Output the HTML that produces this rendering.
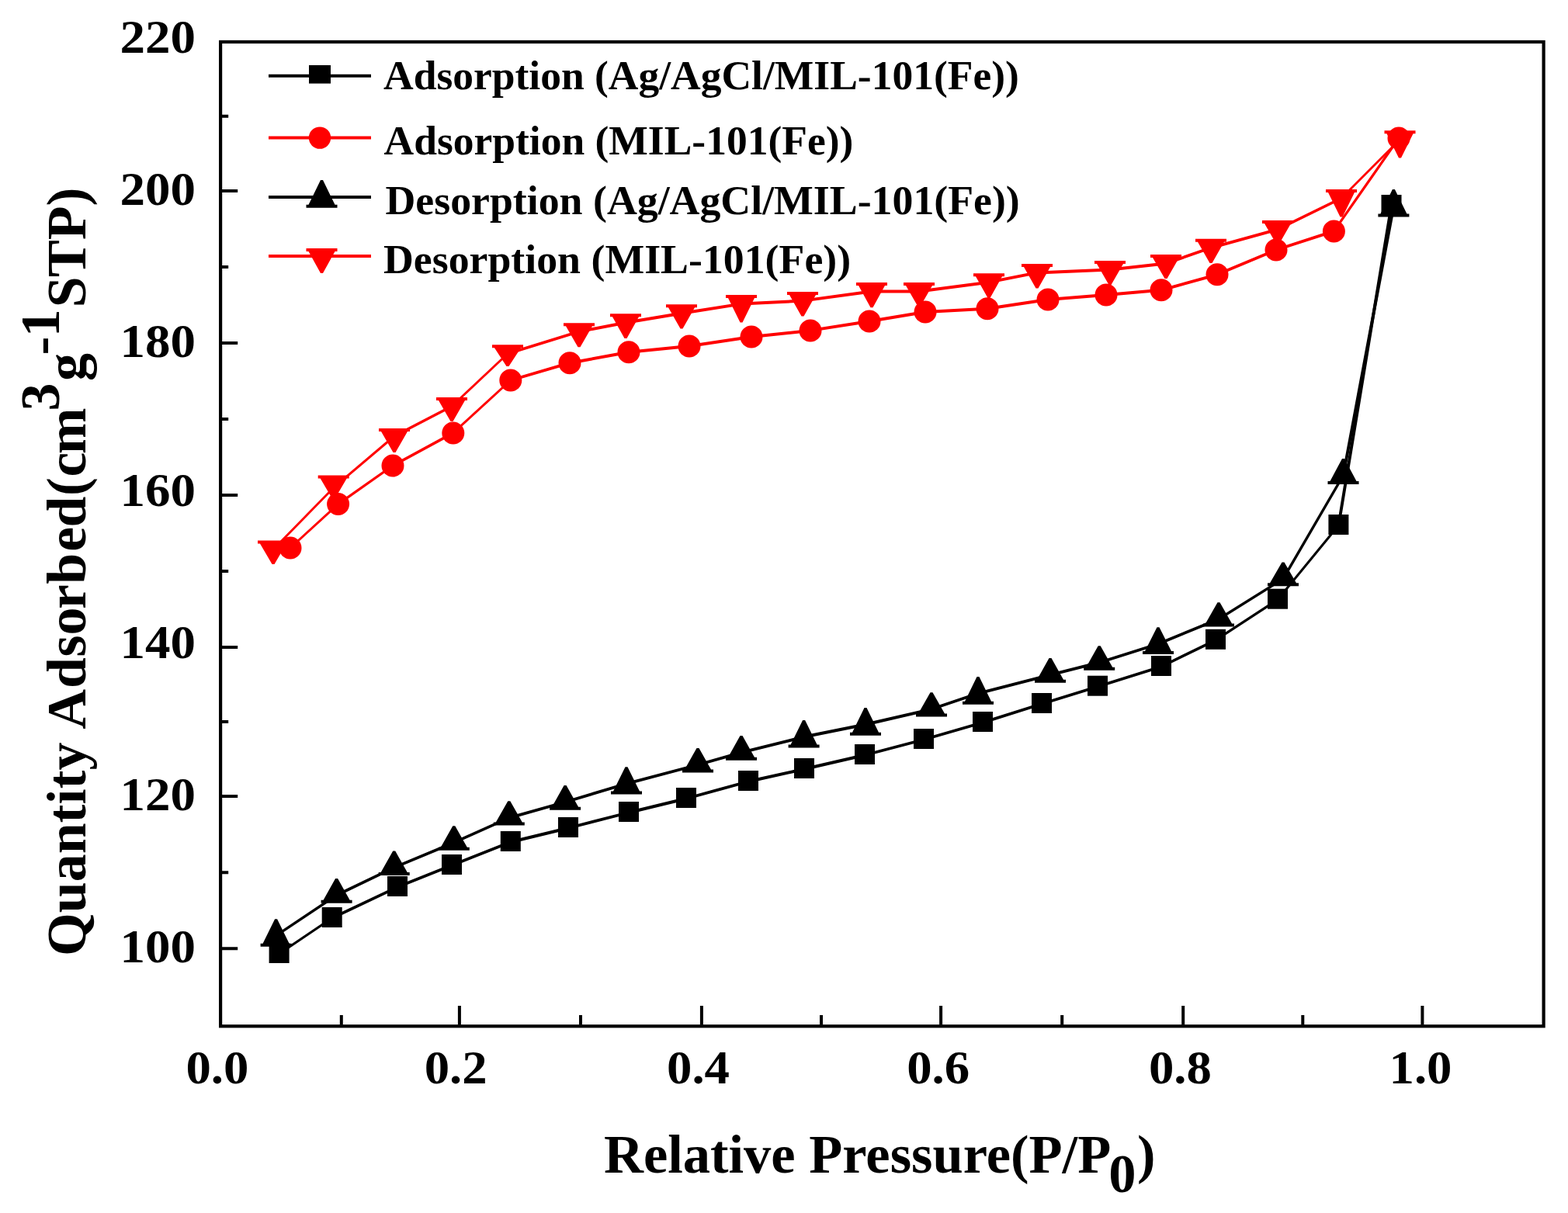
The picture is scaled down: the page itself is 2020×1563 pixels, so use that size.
<!DOCTYPE html>
<html><head><meta charset="utf-8"><title>Isotherm</title>
<style>
html,body{margin:0;padding:0;background:#fff;}
body{width:2020px;height:1563px;overflow:hidden;}
svg{display:block;}
text{font-family:'Liberation Serif', 'Times New Roman', serif;font-weight:bold;fill:#000;}
.tk{font-size:61px;}
.ti{font-size:70.5px;}
.yt{font-size:71.8px;}
.lg{font-size:53.5px;}
</style></head>
<body>
<svg width="2020" height="1563" viewBox="0 0 2020 1563">
<rect width="2020" height="1563" fill="#fff"/>
<path d="M285.7 245.9H306.2M285.7 442.0H306.2M285.7 638.0H306.2M285.7 834.1H306.2M285.7 1026.1H306.2M285.7 1222.2H306.2M285.7 149.8H294.2M285.7 344.0H294.2M285.7 540.0H294.2M285.7 736.0H294.2M285.7 930.0H294.2M285.7 1124.2H294.2M591.9 1320.7V1296M903.9 1320.7V1296M1212.1 1320.7V1296M1524.2 1320.7V1296M1832.4 1320.7V1296M439.8 1320.7V1308M748.0 1320.7V1308M1058.0 1320.7V1308M1368.2 1320.7V1308M1678.3 1320.7V1308" stroke="#000" stroke-width="4" fill="none"/>
<rect x="284.1" y="54.0" width="1704.5" height="1268.3" fill="none" stroke="#000" stroke-width="4.2"/>
<text x="252.0" y="67.7" text-anchor="end" class="tk" textLength="97.5" lengthAdjust="spacingAndGlyphs">220</text>
<text x="252.0" y="263.9" text-anchor="end" class="tk" textLength="97.5" lengthAdjust="spacingAndGlyphs">200</text>
<text x="252.0" y="459.9" text-anchor="end" class="tk" textLength="97.5" lengthAdjust="spacingAndGlyphs">180</text>
<text x="252.0" y="651.9" text-anchor="end" class="tk" textLength="97.5" lengthAdjust="spacingAndGlyphs">160</text>
<text x="252.0" y="848.0" text-anchor="end" class="tk" textLength="97.5" lengthAdjust="spacingAndGlyphs">140</text>
<text x="252.0" y="1044.0" text-anchor="end" class="tk" textLength="97.5" lengthAdjust="spacingAndGlyphs">120</text>
<text x="252.0" y="1240.2" text-anchor="end" class="tk" textLength="97.5" lengthAdjust="spacingAndGlyphs">100</text>
<text x="279.9" y="1396.2" text-anchor="middle" class="tk" textLength="81" lengthAdjust="spacingAndGlyphs">0.0</text>
<text x="587.2" y="1396.2" text-anchor="middle" class="tk" textLength="81" lengthAdjust="spacingAndGlyphs">0.2</text>
<text x="899.5" y="1396.2" text-anchor="middle" class="tk" textLength="81" lengthAdjust="spacingAndGlyphs">0.4</text>
<text x="1208.7" y="1396.2" text-anchor="middle" class="tk" textLength="81" lengthAdjust="spacingAndGlyphs">0.6</text>
<text x="1520.4" y="1396.2" text-anchor="middle" class="tk" textLength="81" lengthAdjust="spacingAndGlyphs">0.8</text>
<text x="1830.0" y="1396.2" text-anchor="middle" class="tk" textLength="81" lengthAdjust="spacingAndGlyphs">1.0</text>
<text x="778" y="1511.4" class="ti">Relative Pressure(P/P<tspan dx="-3" dy="24.6">0</tspan><tspan dx="1.5" dy="-24.6">)</tspan></text>
<text transform="translate(109.6 1232) rotate(-90)" class="ti yt"><tspan x="0.0 55.8 95.8 131.7 171.6 195.5 215.5 239.4 275.3 292.3 345.1 385.5 413.5 446.9 479.2 521.2 552.5 593.0 617.4 646.7" y="0">Quantity Adsorbed(cm</tspan><tspan x="702.6" y="-34">3</tspan><tspan x="741" y="0">g</tspan><tspan x="774.6 797.8" y="-34">-1</tspan><tspan x="835.7 874.9 922.8 966.6" y="0">STP)</tspan></text>
<g fill="none" stroke="#000" stroke-linecap="round"><path d="M359.6 1229.0L427.7 1183.0" stroke-width="3.31"/><path d="M427.7 1183.0L512.0 1143.0" stroke-width="3.61"/><path d="M512.0 1143.0L582.0 1115.0" stroke-width="3.71"/><path d="M582.0 1115.0L657.8 1085.0" stroke-width="3.72"/><path d="M657.8 1085.0L732.0 1067.0" stroke-width="3.89"/><path d="M732.0 1067.0L810.0 1047.0" stroke-width="3.87"/><path d="M810.0 1047.0L884.0 1029.0" stroke-width="3.89"/><path d="M884.0 1029.0L964.0 1007.0" stroke-width="3.86"/><path d="M964.0 1007.0L1036.0 991.0" stroke-width="3.90"/><path d="M1036.0 991.0L1114.0 973.0" stroke-width="3.90"/><path d="M1114.0 973.0L1190.0 953.0" stroke-width="3.87"/><path d="M1190.0 953.0L1266.0 931.0" stroke-width="3.84"/><path d="M1266.0 931.0L1342.0 907.0" stroke-width="3.81"/><path d="M1342.0 907.0L1414.0 884.7" stroke-width="3.82"/><path d="M1414.0 884.7L1496.0 859.0" stroke-width="3.82"/><path d="M1496.0 859.0L1566.0 824.8" stroke-width="3.59"/><path d="M1566.0 824.8L1646.0 772.7" stroke-width="3.35"/><path d="M1646.0 772.7L1724.4 677.0" stroke-width="3.09"/><path d="M1724.4 677.0L1792.5 265.0" stroke-width="3.95"/></g>
<g fill="none" stroke="#000" stroke-linecap="round"><path d="M355.6 1205.7L433.6 1153.5" stroke-width="3.32"/><path d="M433.6 1153.5L507.7 1117.9" stroke-width="3.61"/><path d="M507.7 1117.9L584.8 1085.7" stroke-width="3.69"/><path d="M584.8 1085.7L655.8 1053.8" stroke-width="3.65"/><path d="M655.8 1053.8L728.1 1033.5" stroke-width="3.85"/><path d="M728.1 1033.5L807.0 1009.8" stroke-width="3.83"/><path d="M807.0 1009.8L899.0 985.5" stroke-width="3.87"/><path d="M899.0 985.5L955.0 969.6" stroke-width="3.85"/><path d="M955.0 969.6L1035.6 949.5" stroke-width="3.88"/><path d="M1035.6 949.5L1115.0 933.5" stroke-width="3.92"/><path d="M1115.0 933.5L1200.0 913.8" stroke-width="3.90"/><path d="M1200.0 913.8L1260.0 893.5" stroke-width="3.79"/><path d="M1260.0 893.5L1353.0 869.6" stroke-width="3.87"/><path d="M1353.0 869.6L1416.2 853.7" stroke-width="3.88"/><path d="M1416.2 853.7L1492.0 829.7" stroke-width="3.81"/><path d="M1492.0 829.7L1570.0 797.7" stroke-width="3.70"/><path d="M1570.0 797.7L1653.0 745.9" stroke-width="3.39"/><path d="M1653.0 745.9L1730.5 612.5" stroke-width="3.46"/><path d="M1730.5 612.5L1795.4 265.5" stroke-width="3.93"/></g>
<g fill="none" stroke="#f00" stroke-linecap="round"><path d="M374.0 706.0L435.6 649.6" stroke-width="2.95"/><path d="M435.6 649.6L506.0 600.0" stroke-width="3.27"/><path d="M506.0 600.0L583.8 557.9" stroke-width="3.52"/><path d="M583.8 557.9L657.8 490.0" stroke-width="2.95"/><path d="M657.8 490.0L734.0 467.7" stroke-width="3.84"/><path d="M734.0 467.7L810.0 453.7" stroke-width="3.93"/><path d="M810.0 453.7L888.0 446.0" stroke-width="3.98"/><path d="M888.0 446.0L968.0 434.0" stroke-width="3.96"/><path d="M968.0 434.0L1044.0 425.9" stroke-width="3.98"/><path d="M1044.0 425.9L1120.0 414.0" stroke-width="3.95"/><path d="M1120.0 414.0L1192.0 402.0" stroke-width="3.95"/><path d="M1192.0 402.0L1272.0 397.7" stroke-width="3.99"/><path d="M1272.0 397.7L1350.0 386.0" stroke-width="3.96"/><path d="M1350.0 386.0L1425.0 380.0" stroke-width="3.99"/><path d="M1425.0 380.0L1496.0 373.8" stroke-width="3.98"/><path d="M1496.0 373.8L1568.0 353.8" stroke-width="3.85"/><path d="M1568.0 353.8L1644.0 322.0" stroke-width="3.69"/><path d="M1644.0 322.0L1718.4 297.9" stroke-width="3.81"/><path d="M1718.4 297.9L1802.0 178.0" stroke-width="3.28"/></g>
<g fill="none" stroke="#f00" stroke-linecap="round"><path d="M352.0 707.9L429.7 628.4" stroke-width="2.86"/><path d="M429.7 628.4L508.0 562.0" stroke-width="3.05"/><path d="M508.0 562.0L582.0 523.5" stroke-width="3.55"/><path d="M582.0 523.5L654.0 455.7" stroke-width="2.91"/><path d="M654.0 455.7L746.0 427.2" stroke-width="3.82"/><path d="M746.0 427.2L806.0 415.7" stroke-width="3.93"/><path d="M806.0 415.7L878.0 403.8" stroke-width="3.95"/><path d="M878.0 403.8L955.0 391.6" stroke-width="3.95"/><path d="M955.0 391.6L1034.0 387.6" stroke-width="3.99"/><path d="M1034.0 387.6L1123.0 375.5" stroke-width="3.96"/><path d="M1123.0 375.5L1184.0 375.5" stroke-width="4.00"/><path d="M1184.0 375.5L1274.0 363.7" stroke-width="3.97"/><path d="M1274.0 363.7L1336.0 351.4" stroke-width="3.92"/><path d="M1336.0 351.4L1430.0 347.5" stroke-width="4.00"/><path d="M1430.0 347.5L1502.0 339.5" stroke-width="3.98"/><path d="M1502.0 339.5L1560.0 319.3" stroke-width="3.78"/><path d="M1560.0 319.3L1646.0 295.6" stroke-width="3.86"/><path d="M1646.0 295.6L1728.0 255.5" stroke-width="3.59"/><path d="M1728.0 255.5L1803.5 179.7" stroke-width="2.83"/></g>
<g fill="#f00"><circle cx="374.0" cy="706.0" r="14.5"/><circle cx="435.6" cy="649.6" r="14.5"/><circle cx="506.0" cy="600.0" r="14.5"/><circle cx="583.8" cy="557.9" r="14.5"/><circle cx="657.8" cy="490.0" r="14.5"/><circle cx="734.0" cy="467.7" r="14.5"/><circle cx="810.0" cy="453.7" r="14.5"/><circle cx="888.0" cy="446.0" r="14.5"/><circle cx="968.0" cy="434.0" r="14.5"/><circle cx="1044.0" cy="425.9" r="14.5"/><circle cx="1120.0" cy="414.0" r="14.5"/><circle cx="1192.0" cy="402.0" r="14.5"/><circle cx="1272.0" cy="397.7" r="14.5"/><circle cx="1350.0" cy="386.0" r="14.5"/><circle cx="1425.0" cy="380.0" r="14.5"/><circle cx="1496.0" cy="373.8" r="14.5"/><circle cx="1568.0" cy="353.8" r="14.5"/><circle cx="1644.0" cy="322.0" r="14.5"/><circle cx="1718.4" cy="297.9" r="14.5"/><circle cx="1802.0" cy="178.0" r="14.5"/></g>
<g fill="#f00"><path d="M332.0 696.4L372.0 696.4L372.0 700.4L369.0 700.4L353.5 727.0L350.5 727.0L335.0 700.4L332.0 700.4Z"/><path d="M409.7 612.4L449.7 612.4L449.7 616.4L446.7 616.4L431.2 643.0L428.2 643.0L412.7 616.4L409.7 616.4Z"/><path d="M488.0 552.0L528.0 552.0L528.0 556.0L525.0 556.0L509.5 583.0L506.5 583.0L491.0 556.0L488.0 556.0Z"/><path d="M562.0 512.0L602.0 512.0L602.0 516.0L599.0 516.0L583.5 543.0L580.5 543.0L565.0 516.0L562.0 516.0Z"/><path d="M634.0 444.2L674.0 444.2L674.0 448.2L671.0 448.2L655.5 472.0L652.5 472.0L637.0 448.2L634.0 448.2Z"/><path d="M726.0 416.2L766.0 416.2L766.0 420.2L763.0 420.2L747.5 447.3L744.5 447.3L729.0 420.2L726.0 420.2Z"/><path d="M786.0 404.2L826.0 404.2L826.0 408.2L823.0 408.2L807.5 436.0L804.5 436.0L789.0 408.2L786.0 408.2Z"/><path d="M858.0 392.3L898.0 392.3L898.0 396.3L895.0 396.3L879.5 423.6L876.5 423.6L861.0 396.3L858.0 396.3Z"/><path d="M935.0 380.1L975.0 380.1L975.0 384.1L972.0 384.1L956.5 415.5L953.5 415.5L938.0 384.1L935.0 384.1Z"/><path d="M1014.0 376.1L1054.0 376.1L1054.0 380.1L1051.0 380.1L1035.5 407.6L1032.5 407.6L1017.0 380.1L1014.0 380.1Z"/><path d="M1103.0 364.0L1143.0 364.0L1143.0 368.0L1140.0 368.0L1124.5 396.3L1121.5 396.3L1106.0 368.0L1103.0 368.0Z"/><path d="M1164.0 364.0L1204.0 364.0L1204.0 368.0L1201.0 368.0L1185.5 395.0L1182.5 395.0L1167.0 368.0L1164.0 368.0Z"/><path d="M1254.0 352.2L1294.0 352.2L1294.0 356.2L1291.0 356.2L1275.5 383.9L1272.5 383.9L1257.0 356.2L1254.0 356.2Z"/><path d="M1316.0 339.9L1356.0 339.9L1356.0 343.9L1353.0 343.9L1337.5 371.6L1334.5 371.6L1319.0 343.9L1316.0 343.9Z"/><path d="M1410.0 336.0L1450.0 336.0L1450.0 340.0L1447.0 340.0L1431.5 367.0L1428.5 367.0L1413.0 340.0L1410.0 340.0Z"/><path d="M1482.0 328.0L1522.0 328.0L1522.0 332.0L1519.0 332.0L1503.5 359.0L1500.5 359.0L1485.0 332.0L1482.0 332.0Z"/><path d="M1540.0 307.8L1580.0 307.8L1580.0 311.8L1577.0 311.8L1561.5 339.0L1558.5 339.0L1543.0 311.8L1540.0 311.8Z"/><path d="M1626.0 284.1L1666.0 284.1L1666.0 288.1L1663.0 288.1L1647.5 315.0L1644.5 315.0L1629.0 288.1L1626.0 288.1Z"/><path d="M1708.0 244.0L1748.0 244.0L1748.0 248.0L1745.0 248.0L1729.5 279.5L1726.5 279.5L1711.0 248.0L1708.0 248.0Z"/><path d="M1783.5 168.2L1823.5 168.2L1823.5 172.2L1820.5 172.2L1805.0 203.5L1802.0 203.5L1786.5 172.2L1783.5 172.2Z"/></g>
<g fill="#000"><rect x="346.6" y="1215.0" width="26" height="26"/><rect x="414.7" y="1169.0" width="26" height="26"/><rect x="499.0" y="1129.0" width="26" height="26"/><rect x="569.0" y="1101.0" width="26" height="26"/><rect x="644.8" y="1071.0" width="26" height="26"/><rect x="719.0" y="1053.0" width="26" height="26"/><rect x="797.0" y="1033.0" width="26" height="26"/><rect x="871.0" y="1015.0" width="26" height="26"/><rect x="951.0" y="993.0" width="26" height="26"/><rect x="1023.0" y="977.0" width="26" height="26"/><rect x="1101.0" y="959.0" width="26" height="26"/><rect x="1177.0" y="939.0" width="26" height="26"/><rect x="1253.0" y="917.0" width="26" height="26"/><rect x="1329.0" y="893.0" width="26" height="26"/><rect x="1401.0" y="870.7" width="26" height="26"/><rect x="1483.0" y="845.0" width="26" height="26"/><rect x="1553.0" y="810.8" width="26" height="26"/><rect x="1633.0" y="758.7" width="26" height="26"/><rect x="1711.4" y="663.0" width="26" height="26"/><rect x="1779.5" y="251.0" width="26" height="26"/></g>
<g fill="#000"><path d="M335.6 1219.8L375.6 1219.8L375.6 1215.8L372.6 1215.8L357.1 1184.2L354.1 1184.2L338.6 1215.8L335.6 1215.8Z"/><path d="M413.6 1163.8L453.6 1163.8L453.6 1159.8L450.6 1159.8L435.1 1132.0L432.1 1132.0L416.6 1159.8L413.6 1159.8Z"/><path d="M487.7 1128.0L527.7 1128.0L527.7 1124.0L524.7 1124.0L509.2 1096.4L506.2 1096.4L490.7 1124.0L487.7 1124.0Z"/><path d="M564.8 1095.8L604.8 1095.8L604.8 1091.8L601.8 1091.8L586.3 1064.2L583.3 1064.2L567.8 1091.8L564.8 1091.8Z"/><path d="M635.8 1063.6L675.8 1063.6L675.8 1059.6L672.8 1059.6L657.3 1032.3L654.3 1032.3L638.8 1059.6L635.8 1059.6Z"/><path d="M708.1 1043.8L748.1 1043.8L748.1 1039.8L745.1 1039.8L729.6 1012.0L726.6 1012.0L711.1 1039.8L708.1 1039.8Z"/><path d="M787.0 1023.6L827.0 1023.6L827.0 1019.6L824.0 1019.6L808.5 988.3L805.5 988.3L790.0 1019.6L787.0 1019.6Z"/><path d="M879.0 995.6L919.0 995.6L919.0 991.6L916.0 991.6L900.5 964.0L897.5 964.0L882.0 991.6L879.0 991.6Z"/><path d="M935.0 979.8L975.0 979.8L975.0 975.8L972.0 975.8L956.5 948.1L953.5 948.1L938.0 975.8L935.0 975.8Z"/><path d="M1015.6 963.6L1055.6 963.6L1055.6 959.6L1052.6 959.6L1037.1 928.0L1034.1 928.0L1018.6 959.6L1015.6 959.6Z"/><path d="M1095.0 947.7L1135.0 947.7L1135.0 943.7L1132.0 943.7L1116.5 912.0L1113.5 912.0L1098.0 943.7L1095.0 943.7Z"/><path d="M1180.0 923.6L1220.0 923.6L1220.0 919.6L1217.0 919.6L1201.5 892.3L1198.5 892.3L1183.0 919.6L1180.0 919.6Z"/><path d="M1240.0 907.7L1280.0 907.7L1280.0 903.7L1277.0 903.7L1261.5 872.0L1258.5 872.0L1243.0 903.7L1240.0 903.7Z"/><path d="M1333.0 879.8L1373.0 879.8L1373.0 875.8L1370.0 875.8L1354.5 848.1L1351.5 848.1L1336.0 875.8L1333.0 875.8Z"/><path d="M1396.2 863.8L1436.2 863.8L1436.2 859.8L1433.2 859.8L1417.7 832.2L1414.7 832.2L1399.2 859.8L1396.2 859.8Z"/><path d="M1472.0 843.0L1512.0 843.0L1512.0 839.0L1509.0 839.0L1493.5 808.2L1490.5 808.2L1475.0 839.0L1472.0 839.0Z"/><path d="M1550.0 807.6L1590.0 807.6L1590.0 803.6L1587.0 803.6L1571.5 776.2L1568.5 776.2L1553.0 803.6L1550.0 803.6Z"/><path d="M1633.0 755.3L1673.0 755.3L1673.0 751.3L1670.0 751.3L1654.5 724.4L1651.5 724.4L1636.0 751.3L1633.0 751.3Z"/><path d="M1710.5 624.0L1750.5 624.0L1750.5 620.0L1747.5 620.0L1732.0 591.0L1729.0 591.0L1713.5 620.0L1710.5 620.0Z"/><path d="M1775.4 279.5L1815.4 279.5L1815.4 275.5L1812.4 275.5L1796.9 244.0L1793.9 244.0L1778.4 275.5L1775.4 275.5Z"/></g>
<path d="M346 97.8H478M346 253.9H478" stroke="#000" stroke-width="4"/>
<path d="M346 177.6H478M346 329.9H478" stroke="#f00" stroke-width="4"/>
<rect x="398" y="84" width="28" height="23.6" fill="#000"/>
<circle cx="412" cy="177.6" r="14.2" fill="#f00"/>
<g fill="#000"><path d="M394.5 267.8L434.5 267.8L434.5 263.8L431.5 263.8L416.0 232.1L413.0 232.1L397.5 263.8L394.5 263.8Z"/></g>
<g fill="#f00"><path d="M394.5 320.0L434.5 320.0L434.5 324.0L431.5 324.0L416.0 351.9L413.0 351.9L397.5 324.0L394.5 324.0Z"/></g>
<text x="494.0" y="115.3" class="lg" style="font-size:53.5px">Adsorption (Ag/AgCl/MIL-101(Fe))</text>
<text x="494.5" y="199.0" class="lg" style="font-size:53.5px">Adsorption (MIL-101(Fe))</text>
<text x="496.5" y="275.7" class="lg" style="font-size:53.8px">Desorption (Ag/AgCl/MIL-101(Fe))</text>
<text x="494.0" y="351.7" class="lg" style="font-size:53.8px">Desorption (MIL-101(Fe))</text>
</svg>
</body></html>
